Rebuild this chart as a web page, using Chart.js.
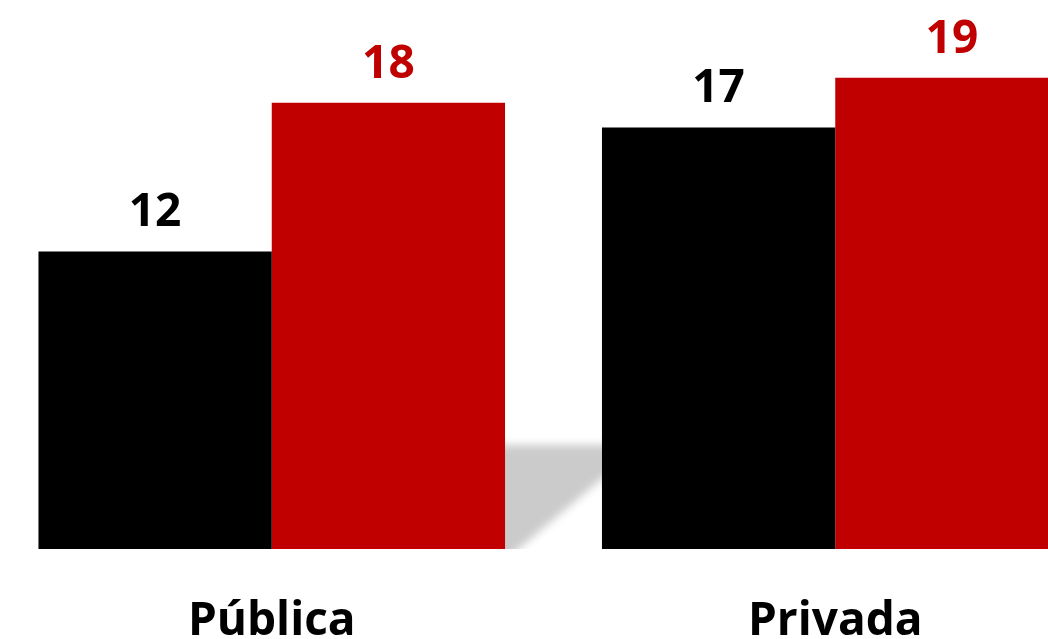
<!DOCTYPE html>
<html>
<head>
    <meta charset="utf-8">
    <title>Pública vs Privada</title>
    <script src="https://cdn.jsdelivr.net/npm/chart.js"></script>
    <style>
        body {
            margin: 0;
            background: #fff;
            overflow: hidden;
            width: 1048px;
            height: 639px;
            position: relative;
        }

        .chart-container {
            position: absolute;
            left: -10px;
            top: 0;
            width: 1127px;
            height: 639px;
        }
    </style>
</head>
<body>

    <div class="chart-container">
        <canvas id="sectorChart"></canvas>
    </div>

    <script>
        const categories = ['Pública', 'Privada'];
        const seriesA = [12, 17];
        const seriesB = [18, 19];
        const seriesColors = ['#000000', '#C00000'];

        const FONT = "'Open Sans', 'DejaVu Sans', sans-serif";

        // soft grey floor shadow between the two groups
        const floorShadow = {
            id: 'floorShadow',
            beforeDatasetsDraw(chart) {
                const ctx = chart.ctx;
                const red = chart.getDatasetMeta(1).data[0];
                const next = chart.getDatasetMeta(0).data[1];
                if (!red || !next) return;
                const rx = red.x + red.width / 2;
                const nx = next.x - next.width / 2;
                const base = red.base;
                const slope = 0.755;
                const top = base - 104;
                const edgeY = base - 72;
                ctx.save();
                ctx.beginPath();
                ctx.rect(0, 0, chart.width, base);
                ctx.clip();
                ctx.filter = 'blur(4px)';
                ctx.fillStyle = '#cbcbcb';
                ctx.beginPath();
                ctx.moveTo(rx - 20, top);
                ctx.lineTo(nx + 20, top);
                ctx.lineTo(nx + 20, edgeY - 20 * slope);
                ctx.lineTo(nx - 72 / slope, base + 10);
                ctx.lineTo(rx - 20, base + 10);
                ctx.closePath();
                ctx.fill();
                ctx.restore();
            }
        };

        // value labels above each bar
        const valueLabels = {
            id: 'valueLabels',
            afterDatasetsDraw(chart) {
                const ctx = chart.ctx;
                ctx.save();
                ctx.font = 'bold 46px ' + FONT;
                ctx.textAlign = 'center';
                ctx.textBaseline = 'alphabetic';
                chart.data.datasets.forEach((ds, i) => {
                    chart.getDatasetMeta(i).data.forEach((bar, j) => {
                        ctx.fillStyle = seriesColors[i];
                        ctx.fillText(String(ds.data[j]), bar.x, bar.y - 25);
                    });
                });
                ctx.restore();
            }
        };

        const ctx = document.getElementById('sectorChart').getContext('2d');
        new Chart(ctx, {
            type: 'bar',
            data: {
                labels: categories,
                datasets: [{
                    data: seriesA,
                    backgroundColor: seriesColors[0],
                    borderWidth: 0
                }, {
                    data: seriesB,
                    backgroundColor: seriesColors[1],
                    borderWidth: 0
                }]
            },
            options: {
                responsive: true,
                maintainAspectRatio: false,
                animation: false,
                devicePixelRatio: 1,
                categoryPercentage: 0.828,
                barPercentage: 1.0,
                layout: {
                    padding: 0
                },
                plugins: {
                    legend: { display: false },
                    tooltip: { enabled: false }
                },
                scales: {
                    y: {
                        display: false,
                        min: 0,
                        max: 22.14
                    },
                    x: {
                        grid: { display: false, drawTicks: false },
                        border: { display: false },
                        afterFit(axis) {
                            axis.height = 90;
                        },
                        ticks: {
                            color: '#000',
                            padding: 45,
                            font: { family: FONT, size: 46, weight: 'bold', lineHeight: 1.2 }
                        }
                    }
                }
            },
            plugins: [floorShadow, valueLabels]
        });
    </script>
</body>
</html>
